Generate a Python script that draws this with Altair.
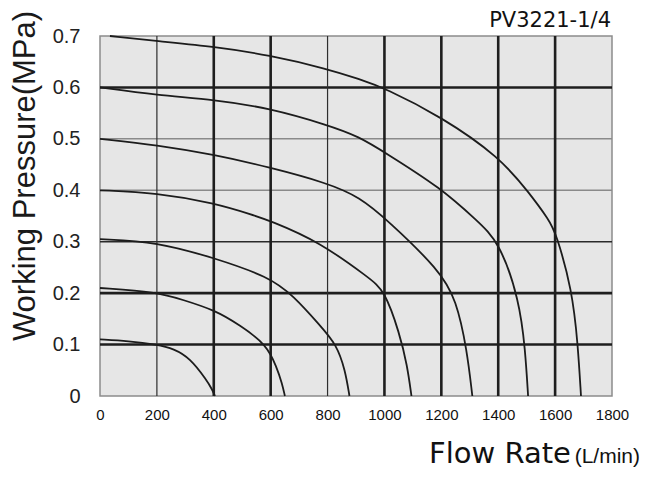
import altair as alt
import pandas as pd

# ---- curve data (flow L/min, pressure MPa) ----
flow_01 = [0, 100, 200, 260, 316, 375, 395, 404]
pres_01 = [0.11, 0.107, 0.10, 0.092, 0.074, 0.031, 0.012, 0.0]

flow_02 = [0, 200, 291, 404, 491, 586, 621, 640, 650]
pres_02 = [0.21, 0.202, 0.187, 0.167, 0.138, 0.10, 0.056, 0.025, 0.0]

flow_03 = [0, 200, 404, 593, 680, 772, 832, 862, 877]
pres_03 = [0.305, 0.30, 0.268, 0.232, 0.195, 0.138, 0.10, 0.05, 0.0]

flow_04 = [0, 200, 404, 537, 593, 772, 947, 1000, 1053, 1080, 1095]
pres_04 = [0.40, 0.395, 0.375, 0.352, 0.342, 0.30, 0.229, 0.206, 0.122, 0.06, 0.0]

flow_05 = [0, 200, 404, 593, 800, 912, 1011, 1193, 1253, 1290, 1309]
pres_05 = [0.50, 0.488, 0.469, 0.445, 0.414, 0.387, 0.342, 0.245, 0.187, 0.09, 0.0]

flow_06 = [0, 200, 404, 593, 800, 912, 1000, 1200, 1323, 1404, 1474, 1495, 1505]
pres_06 = [0.60, 0.585, 0.576, 0.56, 0.527, 0.504, 0.474, 0.404, 0.342, 0.30, 0.187, 0.09, 0.0]

flow_07 = [35, 200, 404, 593, 800, 912, 1000, 1200, 1404, 1509, 1579, 1603, 1660, 1680, 1691]
pres_07 = [0.70, 0.69, 0.679, 0.663, 0.636, 0.616, 0.599, 0.543, 0.465, 0.395, 0.342, 0.317, 0.206, 0.10, 0.0]

curve_names = ["0.1", "0.2", "0.3", "0.4", "0.5", "0.6", "0.7"]
curve_flows = [flow_01, flow_02, flow_03, flow_04, flow_05, flow_06, flow_07]
curve_press = [pres_01, pres_02, pres_03, pres_04, pres_05, pres_06, pres_07]

x_ticks = [0, 200, 400, 600, 800, 1000, 1200, 1400, 1600, 1800]
y_ticks = [0, 0.1, 0.2, 0.3, 0.4, 0.5, 0.6, 0.7]

grid_x_thick = [400, 600, 1000, 1200, 1400, 1600]
grid_x_thin = [200, 800]
grid_y_thick = [0.1, 0.2, 0.6]
grid_y_mid = [0.3]
grid_y_grey = [0.4, 0.5]

model_label = ["PV3221-1/4"]
x_title_main = ["Flow Rate"]
x_title_unit = ["(L/min)"]
y_title = ["Working Pressure(MPa)"]

rows = []
for name, fl, pr in zip(curve_names, curve_flows, curve_press):
    for i, (f, p) in enumerate(zip(fl, pr)):
        rows.append({"curve": name, "flow": f, "pressure": p, "order": i})
curves_df = pd.DataFrame(rows)

xscale = alt.Scale(domain=[0, 1800], nice=False, zero=True)
yscale = alt.Scale(domain=[0, 0.7], nice=False, zero=True)

x_axis = alt.Axis(values=x_ticks, format="d", grid=False, domain=False, ticks=False,
                  tickSize=0, labelPadding=11, labelFont="Liberation Sans",
                  labelFontSize=15, labelColor="#111111", labelFlush=False, labelOverlap=False)
y_axis = alt.Axis(values=y_ticks, format=".1~f", grid=False, domain=False, ticks=False,
                  tickSize=0, labelPadding=20, labelFont="Liberation Sans",
                  labelFontSize=20, labelColor="#222222", labelFlush=False, labelOverlap=False)

base = alt.Chart(curves_df)


def vrules(vals, width, color):
    return alt.Chart(pd.DataFrame({"v": vals})).mark_rule(strokeWidth=width, color=color).encode(
        x=alt.X("v:Q", scale=xscale, axis=x_axis, title=None))


def hrules(vals, width, color):
    return alt.Chart(pd.DataFrame({"v": vals})).mark_rule(strokeWidth=width, color=color).encode(
        y=alt.Y("v:Q", scale=yscale, axis=y_axis, title=None))


lines = base.mark_line(interpolate="basis", color="#1c1c1c", strokeWidth=1.8).encode(
    x=alt.X("flow:Q", scale=xscale, axis=x_axis, title=None),
    y=alt.Y("pressure:Q", scale=yscale, axis=y_axis, title=None),
    detail="curve:N",
    order="order:Q",
)

label_pv = alt.Chart(pd.DataFrame({"t": model_label})).mark_text(
    align="right", baseline="alphabetic", font="DejaVu Sans",
    fontSize=21, color="#111111").encode(text="t:N", x=alt.value(511), y=alt.value(-9))

title_main = alt.Chart(pd.DataFrame({"t": x_title_main})).mark_text(
    align="center", baseline="alphabetic", font="DejaVu Sans",
    fontSize=29, color="#111111").encode(text="t:N", x=alt.value(400), y=alt.value(427))

title_unit = alt.Chart(pd.DataFrame({"t": x_title_unit})).mark_text(
    align="right", baseline="alphabetic", font="Liberation Sans",
    fontSize=21, color="#111111").encode(text="t:N", x=alt.value(540), y=alt.value(427))

title_y = alt.Chart(pd.DataFrame({"t": y_title})).mark_text(
    align="center", baseline="alphabetic", angle=270, font="Liberation Sans",
    fontSize=31, color="#1a1a1a").encode(text="t:N", x=alt.value(-65), y=alt.value(140))

chart = alt.layer(
    hrules(grid_y_grey, 1.5, "#8a8a8a"),
    hrules(grid_y_mid, 1.6, "#2a2a2a"),
    hrules(grid_y_thick, 2.6, "#1e1e1e"),
    vrules(grid_x_thin, 1.2, "#2e2e2e"),
    vrules(grid_x_thick, 2.6, "#1e1e1e"),
    lines,
    label_pv,
    title_main,
    title_unit,
    title_y,
).properties(
    width=512,
    height=360,
    autosize=alt.AutoSizeParams(type="none"),
    padding={"left": 92, "top": 28, "right": 29, "bottom": 74},
).configure_view(
    fill="#e6e6e6", stroke="#8c8c8c", strokeWidth=1.5
)

chart.save("out.html", embed_options={"renderer": "svg", "actions": False})
